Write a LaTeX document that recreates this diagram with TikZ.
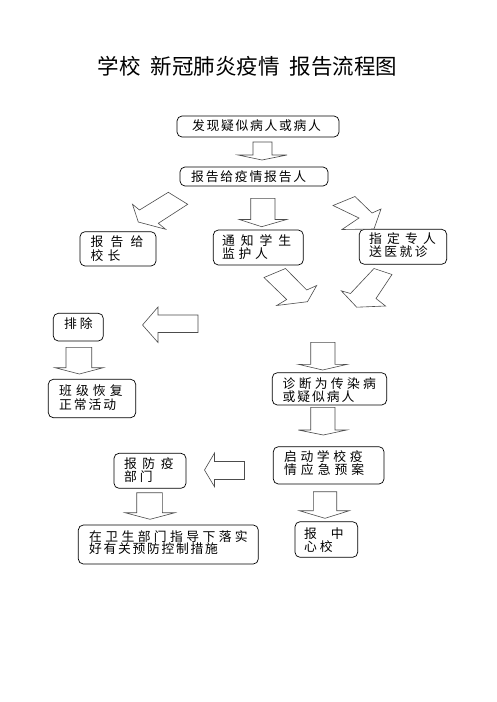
\documentclass[tikz,border=0pt]{standalone}
\usepackage{fontspec}
\setmainfont{Noto Sans CJK SC}
\usetikzlibrary{fit}
\makeatletter
\newcommand\pitched[2]{\def\my@pp{#1}\my@pitchedaux#2\relax}
\def\my@pitchedaux#1{\ifx#1\relax\else\makebox[\my@pp][l]{#1}\expandafter\my@pitchedaux\fi}
\makeatother
\newcommand\dnarrow[8]{% x1 x2 top base hx1 hx2 tipx tipy
  \draw[blk] (#1,#3) -- (#2,#3) -- (#2,#4) -- (#6,#4) -- (#7,#8) -- (#5,#4) -- (#1,#4) -- cycle;}
\newcommand\lfarrow[8]{% tailx sy1 sy2 basex hy1 hy2 tipx tipy
  \draw[blk] (#1,#2) -- (#1,#3) -- (#4,#3) -- (#4,#6) -- (#7,#8) -- (#4,#5) -- (#4,#2) -- cycle;}
\tikzset{
  box/.style={draw=black, line width=0.7pt, rounded corners=5pt, inner sep=0pt},
  blk/.style={draw=black!70, line width=0.6pt, fill=white, line join=miter},
  txt/.style={anchor=west, inner sep=0pt, font=\fontsize{12.8}{13}\selectfont},
}
\begin{document}
\begin{tikzpicture}[x=1pt,y=-1pt]
\fill[white] (0,0) rectangle (496,702);
\useasboundingbox (0,0) rectangle (496,702);

\node[font=\fontsize{21.5}{22}\selectfont, inner sep=0pt] (title) at (247.5,66) {学校\hspace{10pt}新冠肺炎疫情\hspace{10pt}报告流程图};

% boxes
\node[box, fit={(177,116)(339,137)}] (b1) {};
\node[box, fit={(180,167)(328,186)}] (b2) {};
\node[box, fit={(80,231.7)(156,266)}] (b3) {};
\node[box, fit={(213.3,230)(303.3,265)}] (b4) {};
\node[box, fit={(359.3,229.3)(446.7,264.3)}] (b5) {};
\node[box, fit={(53.3,313.3)(103.3,341)}] (b6) {};
\node[box, fit={(48.3,379.3)(135.7,417.7)}] (b7) {};
\node[box, fit={(272.3,372.7)(386.7,405)}] (b8) {};
\node[box, fit={(273.3,446.7)(384,484)}] (b9) {};
\node[box, fit={(114,453.3)(186,488.3)}] (b10) {};
\node[box, fit={(78.3,525)(258.3,564)}] (b11) {};
\node[box, fit={(295,521.7)(357.7,557.3)}] (b12) {};

% texts
\node[txt] (t1) at (192,126) {\pitched{14.5pt}{发现疑似病人或病人}};
\node[txt] (t2) at (191,177) {\pitched{14.6pt}{报告给疫情报告人}};
\node[txt] (t3a) at (90.5,242) {\pitched{20pt}{报告给}};
\node[txt] (t3b) at (90.5,255.5) {\pitched{17pt}{校长}};
\node[txt] (t4a) at (222,240.5) {\pitched{18.7pt}{通知学生}};
\node[txt] (t4b) at (222,254) {\pitched{16.5pt}{监护人}};
\node[txt] (t5a) at (369,239) {\pitched{18pt}{指定专人}};
\node[txt] (t5b) at (369,252) {\pitched{15.2pt}{送医就诊}};
\node[txt] (t6) at (64,323.5) {\pitched{15.7pt}{排除}};
\node[txt] (t7a) at (59,390.5) {\pitched{16.9pt}{班级恢复}};
\node[txt] (t7b) at (59,405) {\pitched{14.7pt}{正常活动}};
\node[txt] (t8a) at (282.5,383.5) {\pitched{16.1pt}{诊断为传染病}};
\node[txt] (t8b) at (282.5,397) {\pitched{14.75pt}{或疑似病人}};
\node[txt] (t9a) at (284,457) {\pitched{16.4pt}{启动学校疫}};
\node[txt] (t9b) at (284,470) {\pitched{16.8pt}{情应急预案}};
\node[txt] (t10a) at (124,463.5) {\pitched{18.3pt}{报防疫}};
\node[txt] (t10b) at (124,477) {\pitched{15.7pt}{部门}};
\node[txt] (t11a) at (89,537) {\pitched{16.2pt}{在卫生部门指导下落实}};
\node[txt] (t11b) at (89,548.5) {\pitched{14.5pt}{好有关预防控制措施}};
\node[txt] (t12a) at (304,533.5) {\pitched{26.7pt}{报中}};
\node[txt] (t12b) at (304,547) {\pitched{15.7pt}{心校}};

% straight down arrows
\dnarrow{253}{272}{142}{155}{238}{287}{262}{160}
\dnarrow{250.7}{275}{198.3}{219.5}{239.3}{286.7}{261.7}{226.7}
\dnarrow{66}{91.7}{347.3}{367.7}{55}{103.3}{79.3}{374}
\dnarrow{310.7}{335}{342.3}{364.3}{298.3}{347.3}{322.7}{370}
\dnarrow{310.7}{335}{407.3}{430}{298.3}{346.7}{323.3}{435}
\dnarrow{136.7}{162.3}{492.7}{512.7}{125}{175}{150}{519.3}
\dnarrow{313.3}{336.7}{491.7}{510.7}{299.3}{349.3}{325}{518.3}

% left arrows
\lfarrow{198}{315}{332.5}{158}{307}{342.5}{142.5}{325}
\lfarrow{244.5}{461.5}{479.5}{214.5}{453}{486.7}{204.5}{470}

% diagonal arrows
\draw[blk] (168.3,192.3) -- (187.7,204.3) -- (158.3,223.3) -- (165.7,229.3) -- (138.3,222) -- (132.5,204.3) -- (139.5,210) -- cycle;
\draw[blk] (333,205.5) -- (355,196.5) -- (372,213) -- (381,209) -- (374,229) -- (342,229.5) -- (359,218) -- cycle;
\draw[blk] (264,277.5) -- (285.5,268.5) -- (306.7,290) -- (316.7,285.5) -- (307.5,301.7) -- (276.7,305.5) -- (286.7,299.5) -- cycle;
\draw[blk] (374,268.5) -- (392,274.5) -- (376,298.5) -- (385.5,306) -- (356.7,307.2) -- (341.3,290.8) -- (350.5,293.5) -- cycle;
\end{tikzpicture}
\end{document}
